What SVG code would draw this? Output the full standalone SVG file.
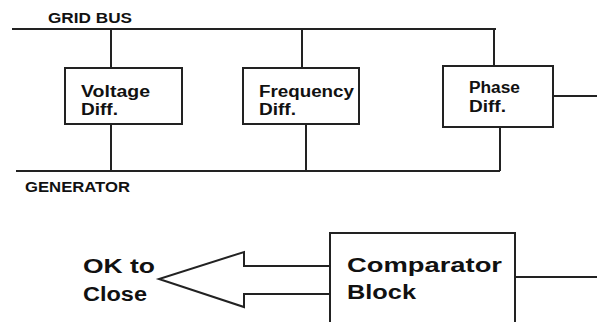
<svg xmlns="http://www.w3.org/2000/svg" width="597" height="322" viewBox="0 0 597 322">
<style>
.ln{stroke:#222;stroke-width:2;fill:none}
.bx{stroke:#222;stroke-width:2;fill:#fff}
.t{font-family:"Liberation Sans",Arial,sans-serif;font-weight:bold;fill:#111}
.s{font-size:14px}
.m{font-size:16px}
.l{font-size:20px}
</style>
<rect width="597" height="322" fill="#fff"/>
<g id="connectors">
<line class="ln" x1="12" y1="29" x2="496" y2="29"/>
<line class="ln" x1="16" y1="171" x2="500" y2="171"/>
<line class="ln" x1="111" y1="29" x2="111" y2="68"/>
<line class="ln" x1="111" y1="124" x2="111" y2="171"/>
<line class="ln" x1="302" y1="29" x2="302" y2="68"/>
<line class="ln" x1="306" y1="124" x2="306" y2="171"/>
<line class="ln" x1="494" y1="29" x2="494" y2="66"/>
<line class="ln" x1="500" y1="127" x2="500" y2="171"/>
<line class="ln" x1="553" y1="96" x2="597" y2="96"/>
<line class="ln" x1="515" y1="277" x2="597" y2="277"/>
<polygon class="ln" points="330,266 244,266 244,252 159,279 244,307 244,294 330,294" fill="#fff"/>
</g>
<g id="labels">
<text class="t s" x="48" y="23" textLength="84" lengthAdjust="spacingAndGlyphs">GRID BUS</text>
<text class="t s" x="25" y="192" textLength="105" lengthAdjust="spacingAndGlyphs">GENERATOR</text>
<text class="t l" x="83" y="273" textLength="72" lengthAdjust="spacingAndGlyphs">OK to</text>
<text class="t l" x="83" y="301" textLength="64" lengthAdjust="spacingAndGlyphs">Close</text>
</g>
<g id="voltage">
<rect class="bx" x="65" y="68" width="117" height="56"/>
<text class="t m" x="81" y="97" textLength="69" lengthAdjust="spacingAndGlyphs">Voltage</text>
<text class="t m" x="81" y="115" textLength="37" lengthAdjust="spacingAndGlyphs">Diff.</text>
</g>
<g id="frequency">
<rect class="bx" x="243" y="68" width="116" height="56"/>
<text class="t m" x="259" y="97" textLength="95" lengthAdjust="spacingAndGlyphs">Frequency</text>
<text class="t m" x="259" y="115" textLength="37" lengthAdjust="spacingAndGlyphs">Diff.</text>
</g>
<g id="phase">
<rect class="bx" x="443" y="66" width="110" height="61"/>
<text class="t m" x="469" y="93" textLength="51" lengthAdjust="spacingAndGlyphs">Phase</text>
<text class="t m" x="469" y="112" textLength="37" lengthAdjust="spacingAndGlyphs">Diff.</text>
</g>
<g id="comparator">
<rect class="bx" x="330" y="233" width="185" height="100"/>
<text class="t l" x="347" y="272" textLength="155" lengthAdjust="spacingAndGlyphs">Comparator</text>
<text class="t l" x="347" y="299" textLength="69" lengthAdjust="spacingAndGlyphs">Block</text>
</g>
</svg>
